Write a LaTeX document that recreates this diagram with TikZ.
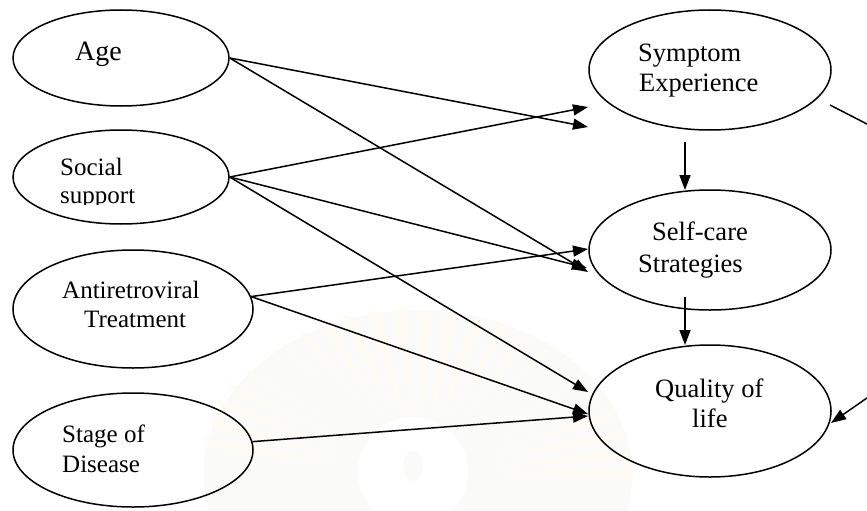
\documentclass[tikz,border=0pt]{standalone}
\usepackage{fontspec}
\setmainfont{Liberation Serif}
\usetikzlibrary{shapes.geometric,arrows.meta}

\definecolor{sealray}{rgb}{0.992,0.986,0.955}
\definecolor{sealbg}{rgb}{0.982,0.981,0.972}

\tikzset{
  var/.style={draw, ellipse, line width=1.5pt, inner sep=0pt},
  lbl/.style={anchor=base west, inner sep=0pt, font=\fontsize{25}{30}\selectfont},
  lblr/.style={lbl, font=\fontsize{26.5}{32}\selectfont},
  path/.style={line width=1.5pt, -{Triangle[length=15pt,width=11pt]}},
}

\begin{document}
\begin{tikzpicture}[x=1pt, y=-1pt]
  \useasboundingbox (0,0) rectangle (867,511);
  \clip (0,0) rectangle (867,511);

  % faint seal in the background
  \begin{scope}[shift={(418,475)}, xscale=1.3]
    \fill[sealbg] (0,0) circle (165);
    \foreach \a in {4,11,...,176}{
      \fill[sealray] (-\a+1.8:50) -- (-\a+1.8:165)
        arc[start angle=\a-1.8, end angle=\a+1.8, radius=165] -- cycle;
    }
  \end{scope}
  \fill[white] (413,472) circle (55);
  \fill[sealbg] (413,466) ellipse (10 and 15);

  % latent variables
  \node[var, minimum width=216pt, minimum height=96pt]  (age) at (121,58)  {};
  \node[var, minimum width=216pt, minimum height=94pt]  (soc) at (121,177) {};
  \node[var, minimum width=240pt, minimum height=118pt] (art) at (133,309) {};
  \node[var, minimum width=240pt, minimum height=114pt] (sod) at (133,450) {};
  \node[var, minimum width=242pt, minimum height=120pt] (sym) at (710,70)  {};
  \node[var, minimum width=242pt, minimum height=120pt] (sc)  at (710,250) {};
  \node[var, minimum width=242pt, minimum height=132pt] (qol) at (710,411) {};

  % labels
  \node[lbl, font=\fontsize{28}{32}\selectfont] (tage) at (75,60) {Age};
  \node[lbl] (tsoc1) at (60,175) {Social};
  \begin{scope}
    \clip (0,180) rectangle (230,204.5);
    \node[lbl] (tsoc2) at (60,203) {support};
  \end{scope}
  \node[lbl] (tart1) at (62,298) {Antiretroviral};
  \node[lbl] (tart2) at (84,327) {Treatment};
  \node[lbl] (tsod1) at (62,442) {Stage of};
  \node[lbl] (tsod2) at (62,472) {Disease};
  \node[lblr] (tsym1) at (638,62) {Symptom};
  \node[lblr] (tsym2) at (639,92) {Experience};
  \node[lblr] (tsc1) at (652,240) {Self-care};
  \node[lblr] (tsc2) at (638,272) {Strategies};
  \node[lblr] (tqol1) at (655,397) {Quality of};
  \node[lblr] (tqol2) at (692,427) {life};

  % arrow ends
  \coordinate (symA) at (588,107);
  \coordinate (symB) at (588,127);
  \coordinate (scA)  at (588,249);
  \coordinate (scB)  at (587,268);
  \coordinate (scC)  at (588,272);
  \coordinate (qolA) at (588,392);
  \coordinate (qolB) at (588,414);
  \coordinate (qolC) at (588,416);
  \coordinate (symOut) at (685,142);
  \coordinate (scIn)   at (685,190);
  \coordinate (scOut)  at (685,297);
  \coordinate (qolIn)  at (685,345);
  \coordinate (symR)   at (830,105);
  \coordinate (qolR)   at (831,423);
  \coordinate (bendA)  at (900,141);
  \coordinate (bendB)  at (900,375);

  % paths
  \draw[path] (age.east) -- (symB);
  \draw[path] (age.east) -- (scC);
  \draw[path] (soc.east) -- (symA);
  \draw[path] (soc.east) -- (scB);
  \draw[path] (soc.east) -- (qolA);
  \draw[path] (art.6) -- (scA);
  \draw[path] (art.6) -- (qolB);
  \draw[path] (sod.4) -- (qolC);
  \draw[path] (symOut) -- (scIn);
  \draw[path] (scOut) -- (qolIn);
  \draw[path] (symR) -- (bendA) -- (bendB) -- (qolR);
\end{tikzpicture}
\end{document}
